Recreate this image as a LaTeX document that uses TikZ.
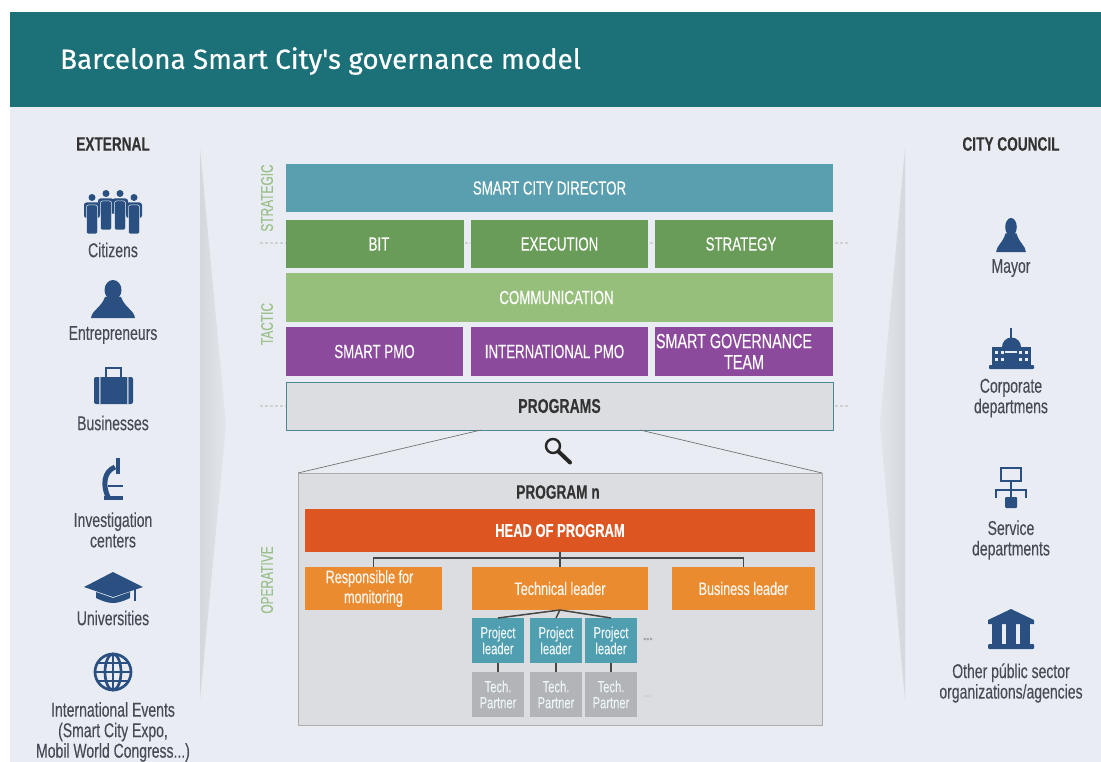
\documentclass[tikz,border=0pt]{standalone}
\usetikzlibrary{calc}
\usepackage{fontspec}
\setmainfont{Liberation Sans}
\newfontfamily\cond[FakeStretch=0.70,FakeBold=0.2]{Liberation Sans}
\newfontfamily\titlefont[FakeBold=0.35]{Fira Sans}
\definecolor{pagebg}{HTML}{E9EDF3}
\definecolor{headbar}{HTML}{1C7078}
\definecolor{icon}{HTML}{2A5082}
\definecolor{txt}{HTML}{474B55}
\definecolor{sidegreen}{HTML}{9BC08C}
\definecolor{cteal}{HTML}{5A9FB0}
\definecolor{cgreen}{HTML}{6A9C59}
\definecolor{clime}{HTML}{97BF7C}
\definecolor{cpurple}{HTML}{8C4A9C}
\definecolor{cgrey}{HTML}{DCDDE0}
\definecolor{cred}{HTML}{DD5520}
\definecolor{corange}{HTML}{EB8B2F}
\definecolor{cproj}{HTML}{4F9FB0}
\definecolor{cpart}{HTML}{B2B4B8}
\tikzset{
  box/.style={anchor=north west,inner sep=0pt,outer sep=0pt,align=center,text=white,font=\cond\fontsize{19}{20.5}\selectfont},
  lab/.style={inner sep=0pt,align=center,text=txt,font=\cond\fontsize{20}{20.5}\selectfont},
  head/.style={inner sep=0pt,align=center,text=black!80,font=\cond\bfseries\fontsize{19.5}{20}\selectfont},
  sidelab/.style={inner sep=0pt,rotate=90,text=sidegreen,font=\cond\fontsize{17}{18}\selectfont},
  small/.style={text=white!92!corange,font=\cond\fontsize{18}{20}\selectfont},
  tiny/.style={text=white!90!cproj,font=\cond\fontsize{16}{16}\selectfont},
  wire/.style={draw=black!72,line width=1.5pt},
  zoomline/.style={draw=black!55,line width=.7pt},
  dashline/.style={draw=black!18,line width=1.2pt,dash pattern=on 3pt off 2pt},
  pics/personicon/.style={code={
    \fill[icon] (0,10) ellipse (8.5 and 10);
    \fill[icon] (-22,38) .. controls (-21,30) and (-12,28) .. (-8,17) -- (8,17) .. controls (12,28) and (21,30) .. (22,38) -- cycle;
  }},
  pics/figureicon/.style={code={
    \fill[icon] (0,3.5) circle (3.5);
    \fill[icon,rounded corners=2.5pt] (-8,8.5) rectangle (8,24);
    \fill[icon,rounded corners=2pt,draw=pagebg,line width=.5pt] (-5.5,11) rectangle (5.5,40);
  }},
}
\begin{document}
\begin{tikzpicture}[x=1pt,y=-1pt]
\useasboundingbox (0,0) rectangle (1101,762);
\fill[white] (0,0) rectangle (1101,762);
\fill[pagebg] (10,12) rectangle (1101,762);
\fill[headbar] (10,12) rectangle (1101,107);
\node[anchor=west,inner sep=0pt,text=white,font=\titlefont\fontsize{27.8}{30}\selectfont] (title) at (60,61) {Barcelona Smart City's governance model};

% tapered shadows
\shade[left color=black!9!pagebg,right color=black!3!pagebg] (200,148) -- (226,425) -- (200,700) -- cycle;
\shade[right color=black!9!pagebg,left color=black!3!pagebg] (905,148) -- (880,425) -- (905,700) -- cycle;

% dashes behind the boxes
\coordinate (d1l) at (260,243); \coordinate (d1r) at (848,243);
\coordinate (d2l) at (260,406); \coordinate (d2r) at (848,406);
\draw[dashline] (d1l) -- (d1r);
\draw[dashline] (d2l) -- (d2r);

% side labels
\node[sidelab] (strategic) at (267,198) {STRATEGIC};
\node[sidelab] (tactic) at (267,324) {TACTIC};
\node[sidelab] (operative) at (267,580) {OPERATIVE};

% main stack
\node[box,fill=cteal,minimum width=547pt,minimum height=48pt] (director) at (286,164) {\hspace*{-20pt}SMART CITY DIRECTOR};
\node[box,fill=cgreen,minimum width=178pt,minimum height=48pt] (bit) at (286,220) {\hspace*{8pt}BIT};
\node[box,fill=cgreen,minimum width=177pt,minimum height=48pt] (exec) at (471,220) {EXECUTION};
\node[box,fill=cgreen,minimum width=178pt,minimum height=48pt] (strategy) at (655,220) {\hspace*{-6pt}STRATEGY};
\node[box,fill=clime,minimum width=547pt,minimum height=49pt] (comm) at (286,273) {\hspace*{-6pt}COMMUNICATION};
\node[box,fill=cpurple,minimum width=177pt,minimum height=49pt] (pmo) at (286,327) {SMART PMO};
\node[box,fill=cpurple,minimum width=177pt,minimum height=49pt] (ipmo) at (471,327) {\hspace*{-10pt}INTERNATIONAL PMO};
\node[box,fill=cpurple,minimum width=178pt,minimum height=49pt,font=\cond\fontsize{20.5}{21}\selectfont] (sgt) at (655,327) {\hspace*{-20pt}SMART GOVERNANCE\\TEAM};
\node[box,fill=cgrey,draw=cteal!85!black,line width=.8pt,minimum width=547pt,minimum height=48pt,text=black!80,font=\cond\bfseries\fontsize{20}{20}\selectfont] (programs) at (286,382) {PROGRAMS};

% zoom box
\node[box,fill=cgrey,draw=black!32,line width=1pt,minimum width=524pt,minimum height=252pt] (progn) at (298,473) {};
\coordinate (zl) at (481,430); \coordinate (zr) at (640,430);
\draw[zoomline] (zl) -- (progn.north west);
\draw[zoomline] (zr) -- (progn.north east);
\node[head] (prognlab) at (558,492) {PROGRAM n};

% magnifier
\draw[black!85,line width=2.4pt] (553,446) circle (7);
\draw[black!85,line width=4pt,line cap=round] (558.5,451.5) -- (570,462.5);

% program n tree
\node[box,fill=cred,minimum width=510pt,minimum height=43pt,font=\cond\bfseries\fontsize{18.5}{20}\selectfont] (hop) at (305,509) {HEAD OF PROGRAM};
\node[box,fill=corange,minimum width=137pt,minimum height=43pt,small] (resp) at (305,567) {\hspace*{-8pt}Responsible for\\monitoring};
\node[box,fill=corange,minimum width=176pt,minimum height=43pt,small] (tech) at (472,567) {Technical leader};
\node[box,fill=corange,minimum width=143pt,minimum height=43pt,small] (biz) at (672,567) {Business leader};
\foreach \n/\x in {p1/472,p2/530,p3/585}{
  \node[box,fill=cproj,minimum width=52pt,minimum height=45pt,tiny] (\n) at (\x,618) {Project\\leader};
}
\foreach \n/\x in {t1/472,t2/530,t3/585}{
  \node[box,fill=cpart,minimum width=52pt,minimum height=45pt,tiny] (\n) at (\x,672) {Tech.\\Partner};
}
\node[inner sep=0pt,text=black!35,font=\rmfamily\bfseries\fontsize{9}{10}\selectfont] (dots1) at (648,640) {•••};
\node[inner sep=0pt,text=black!18,font=\rmfamily\bfseries\fontsize{9}{10}\selectfont] (dots2) at (648,697) {•••};
\draw[wire] (hop.south) -- (tech.north);
\coordinate (bus) at ($(hop.south)+(0,6)$);
\draw[wire] (resp.north) |- (bus) -| (biz.north);
\foreach \n in {p1,p2,p3}{ \draw[wire] (tech.south) -- (\n.north); }
\draw[wire] (p1) -- (t1); \draw[wire] (p2) -- (t2); \draw[wire] (p3) -- (t3);

% left column
\node[head] (external) at (113,144) {EXTERNAL};
\foreach \x/\y in {-21/194,21/194}{ \pic at (113+\x,\y) {figureicon}; }
\foreach \x/\y in {-7/190,7/190}{ \pic at (113+\x,\y) {figureicon}; }
\node[lab] (citizens) at (113,250) {Citizens};
\pic at (113,280) {personicon};
\node[lab] (entre) at (113,335) {Entrepreneurs};
% briefcase
\draw[icon,line width=1.3pt] (106,377) -- (106,368) -- (121,368) -- (121,377);
\fill[icon,rounded corners=2pt] (94,377) rectangle (133,404);
\fill[pagebg!70!icon] (99,377) rectangle (100.5,404) (127,377) rectangle (128.5,404);
\node[lab] (business) at (113,423) {Businesses};
% microscope
\draw[icon,line width=4pt] (118,458) -- (118,474);
\draw[icon,line width=5pt] (115,467) .. controls (103,472) and (103,486) .. (108,497);
\draw[icon,line width=2.5pt] (108,486) -- (123,486);
\draw[icon,line width=4pt] (104,498) -- (123,498);
\node[lab] (invest) at (113,530) {Investigation\\centers};
% graduation cap
\fill[icon] (84,587) -- (113,572) -- (143,587) -- (113,597) -- cycle;
\fill[icon] (96,592) -- (113,598) -- (130,592) -- (130,598) .. controls (124,601) and (118,603) .. (113,603) .. controls (108,603) and (102,601) .. (96,598) -- cycle;
\draw[icon,line width=1.4pt] (135,588) -- (135,601);
\node[lab] (univ) at (113,618) {Universities};
% globe
\begin{scope}[icon,line width=2.7pt]
\draw (113,672) circle (18);
\draw (113,672) ellipse (8 and 18);
\draw (113,654) -- (113,690);
\draw (95,672) -- (131,672);
\draw (98,663) -- (128,663);
\draw (98,681) -- (128,681);
\end{scope}
\node[lab] (events) at (113,732) {International Events\\(Smart City Expo,\\Mobil World Congress...)};

% right column
\node[head] (council) at (1011,144) {CITY COUNCIL};
\pic[xscale=.68,yscale=.9] at (1011,218) {personicon};
\node[lab] (mayor) at (1011,268) {Mayor};
% building
\fill[icon,rounded corners=.8pt] (989,365) rectangle (1034,369);
\fill[icon] (992,347) rectangle (1031,366);
\fill[icon] (1002,347) arc (180:360:9.5) -- cycle;
\draw[icon,line width=1.2pt] (1011,328) -- (1011,340);
\foreach \x in {995,1001,1019,1025}{ \fill[pagebg] (\x,351) rectangle +(3,3); \fill[pagebg] (\x,358) rectangle +(3,3); }
\fill[pagebg] (1005,351) rectangle (1017,352.5);
\node[lab] (corp) at (1011,398) {Corporate\\departmens};
% service
\begin{scope}[icon,line width=1.5pt]
\draw (1001,468) rectangle (1021,481);
\draw (1011,481) -- (1011,499);
\draw (996,498) -- (996,490) -- (1026,490) -- (1026,498);
\end{scope}
\fill[icon,rounded corners=1pt] (1005,497) rectangle (1017,508);
\node[lab] (service) at (1011,540) {Service\\departments};
% temple
\fill[icon] (988,620) -- (1011,609) -- (1034,620) -- (1034,624) -- (988,624) -- cycle;
\fill[icon,rounded corners=1pt] (988,644) rectangle (1034,649);
\foreach \x in {992,1006,1020}{ \fill[icon] (\x,624) rectangle +(10,20); }
\node[lab] (other) at (1011,683) {Other públic sector\\organizations/agencies};
\end{tikzpicture}
\end{document}
